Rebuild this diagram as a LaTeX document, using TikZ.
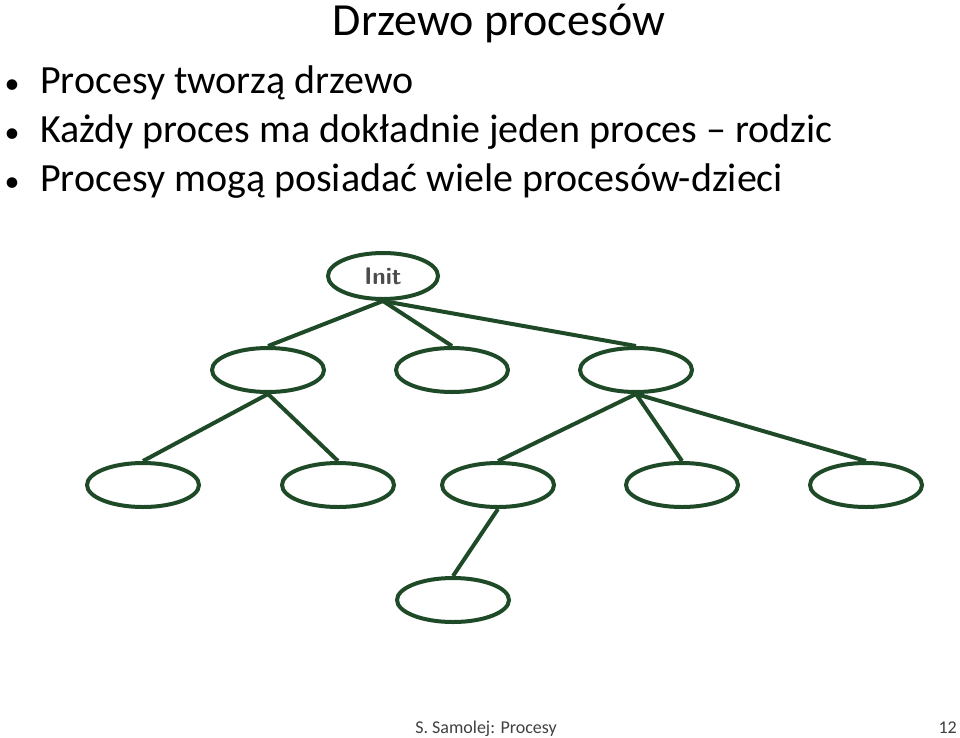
\documentclass[tikz,border=0pt]{standalone}
\usepackage{fontspec}
\setmainfont{Carlito}
\usetikzlibrary{shapes.geometric}
\definecolor{tg}{HTML}{1F4A28}
\begin{document}
\begin{tikzpicture}[x=1pt,y=-1pt,
  proc/.style={ellipse,draw=tg,line width=4pt,minimum width=112pt,minimum height=44pt,inner sep=0pt},
  edge/.style={draw=tg,line width=4pt},
  txt/.style={anchor=base west,inner sep=0pt,font=\fontsize{40}{46}\selectfont}]
\useasboundingbox (0,0) rectangle (960,737);
\node[anchor=base,inner sep=0pt,font=\fontsize{46}{52}\selectfont] (title) at (499,35) {Drzewo procesów};
\node[txt] (b1) at (40,93) {Procesy tworzą drzewo};
\node[txt] (b2) at (40,142) {Każdy proces ma dokładnie jeden proces – rodzic};
\node[txt] (b3) at (40,191) {Procesy mogą posiadać wiele procesów-dzieci};
\foreach \y/\n in {93/d1,142/d2,191/d3}
  \node[txt,anchor=base,font=\fontsize{30}{36}\selectfont] (\n) at (12,\y) {•};
\node[proc,minimum width=110pt,minimum height=46pt,font=\sffamily\bfseries\fontsize{24}{26}\selectfont\color{black!70}] (init) at (383,276) {Init};
\node[proc] (a) at (268,370) {};
\node[proc] (b) at (452,370) {};
\node[proc] (c) at (636,370) {};
\node[proc] (a1) at (143,485) {};
\node[proc] (a2) at (338,485) {};
\node[proc] (c1) at (498,485) {};
\node[proc] (c2) at (682,485) {};
\node[proc] (c3) at (866,485) {};
\node[proc] (d) at (453,600) {};
\draw[edge] (init.south) -- (a.north);
\draw[edge] (init.south) -- (b.north);
\draw[edge] (init.south) -- (c.north);
\draw[edge] (a.south) -- (a1.north);
\draw[edge] (a.south) -- (a2.north);
\draw[edge] (c.south) -- (c1.north);
\draw[edge] (c.south) -- (c2.north);
\draw[edge] (c.south) -- (c3.north);
\draw[edge] (c1.south) -- (d.north);
\node[anchor=base,inner sep=0pt,font=\fontsize{18}{20}\selectfont,text=black!75] (foot) at (486,733) {S. Samolej: Procesy};
\node[anchor=base east,inner sep=0pt,font=\fontsize{18}{20}\selectfont,text=black!75] (num) at (957,733) {12};
\end{tikzpicture}
\end{document}
